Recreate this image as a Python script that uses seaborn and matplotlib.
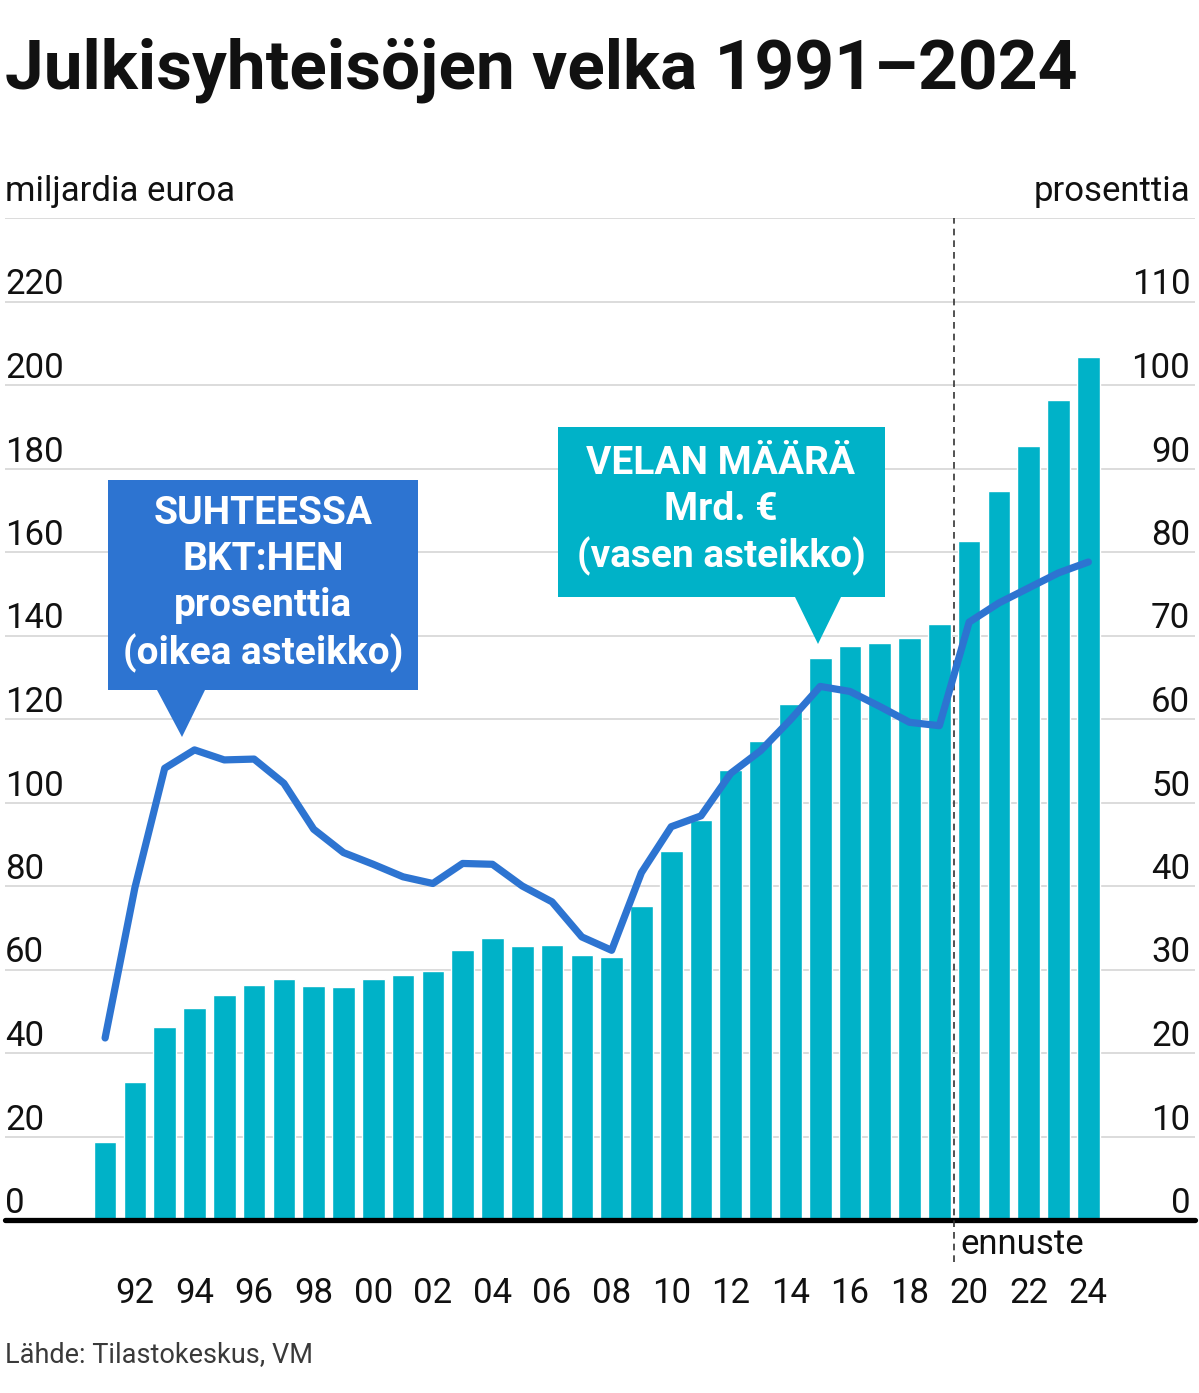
import matplotlib
matplotlib.use("Agg")
import matplotlib.pyplot as plt
import matplotlib.transforms as mtransforms
from matplotlib.patches import Polygon
import pandas as pd
import seaborn as sns

# data
years = [1991, 1992, 1993, 1994, 1995, 1996, 1997, 1998, 1999, 2000,
         2001, 2002, 2003, 2004, 2005, 2006, 2007, 2008, 2009, 2010,
         2011, 2012, 2013, 2014, 2015, 2016, 2017, 2018, 2019, 2020,
         2021, 2022, 2023, 2024]
debt_bn = [18.7, 33.0, 46.3, 50.8, 53.8, 56.4, 57.8, 56.0, 55.7, 57.8,
           58.8, 59.6, 64.7, 67.5, 65.6, 65.8, 63.4, 63.1, 75.3, 88.3,
           95.7, 107.8, 114.7, 123.7, 134.7, 137.4, 138.3, 139.4, 142.7, 162.7,
           174.5, 185.5, 196.5, 206.7]
debt_pct = [21.8, 39.8, 54.1, 56.3, 55.1, 55.2, 52.3, 46.8, 44.0, 42.6,
            41.1, 40.3, 42.7, 42.6, 40.0, 38.1, 33.9, 32.3, 41.6, 47.1,
            48.4, 53.5, 56.2, 59.9, 63.9, 63.3, 61.5, 59.6, 59.2, 71.6,
            73.9, 75.7, 77.5, 78.8]
left_ticks = [0, 20, 40, 60, 80, 100, 120, 140, 160, 180, 200, 220]
right_ticks = [0, 10, 20, 30, 40, 50, 60, 70, 80, 90, 100, 110]
x_tick_years = [1992, 1994, 1996, 1998, 2000, 2002, 2004, 2006, 2008,
                2010, 2012, 2014, 2016, 2018, 2020, 2022, 2024]
x_tick_labels = ["92", "94", "96", "98", "00", "02", "04", "06", "08",
                 "10", "12", "14", "16", "18", "20", "22", "24"]

df = pd.DataFrame({"year": years, "debt": debt_bn, "pct": debt_pct})

BAR = "#00B2C8"
LINE = "#2D74D1"
GRID = "#d6d6d6"

sns.set_theme(style="white")
plt.rcParams["font.family"] = ["Roboto", "DejaVu Sans"]

W, H = 1199, 1393
fig = plt.figure(figsize=(W / 100, H / 100), dpi=100)
# pixel transform, origin top-left
pxt = mtransforms.Affine2D().scale(1 / W, -1 / H).translate(0, 1) + fig.transFigure

ax = fig.add_axes([5 / W, (H - 1220) / H, 1190 / W, 1002 / H])
sns.barplot(data=df, x="year", y="debt", native_scale=True, width=0.76,
            color=BAR, saturation=1, ax=ax, zorder=2)
ax.set_xlim(1987.64, 2027.58)
ax.set_ylim(0, 240)
for v in left_ticks[1:] + [240]:
    ax.axhline(v, color=GRID, lw=1.2, zorder=0)
ax.axhline(0, color="black", lw=3.8, zorder=3, clip_on=False)
ax.axvline(2019.5, ymin=-0.042, ymax=1.0, color="#333333", lw=1.2,
           ls=(0, (4, 3)), zorder=4, clip_on=False)

ax2 = ax.twinx()
sns.lineplot(data=df, x="year", y="pct", color=LINE, lw=5.2, ax=ax2,
             solid_capstyle="round", solid_joinstyle="round", zorder=5)
ax2.set_ylim(0, 120)

for a in (ax, ax2):
    for s in a.spines.values():
        s.set_visible(False)
    a.set_ylabel("")
    a.set_xlabel("")
    a.set_yticks([])

ax.set_xticks(x_tick_years)
ax.set_xticklabels(x_tick_labels, fontsize=25)
ax.tick_params(axis="x", length=0, pad=41, colors="#111111")
ax2.tick_params(axis="x", length=0)

# y labels sit above their gridlines
lt = mtransforms.blended_transform_factory(ax.transAxes, ax.transData)
for v in left_ticks:
    ax.text(0.0, v, str(v), transform=lt, ha="left", va="bottom",
            fontsize=25, color="#111111")
rt = mtransforms.blended_transform_factory(ax2.transAxes, ax2.transData)
for v in right_ticks:
    ax2.text(0.996, v, str(v), transform=rt, ha="right", va="bottom",
             fontsize=25, color="#111111")

fig.text(5, 192, "miljardia euroa", transform=pxt, ha="left", va="center",
         fontsize=25, color="#111111")
fig.text(1190, 192, "prosenttia", transform=pxt, ha="right", va="center",
         fontsize=25, color="#111111")
fig.text(960, 1245, "ennuste", transform=pxt, ha="left", va="center",
         fontsize=25, color="#111111")

fig.text(5, 70, "Julkisyhteisöjen velka 1991–2024", transform=pxt,
         ha="left", va="center", fontsize=50, fontweight="bold", color="#111111")
fig.text(5, 1355, "Lähde: Tilastokeskus, VM", transform=pxt, ha="left",
         va="center", fontsize=19.5, color="#3a3a3a")

# callout boxes
blue_box = [(108, 480), (418, 480), (418, 690), (205, 690), (182, 737),
            (157, 690), (108, 690)]
fig.patches.append(Polygon(blue_box, closed=True, facecolor=LINE,
                           edgecolor="none", transform=pxt, figure=fig))
for txt, y in [("SUHTEESSA", 513), ("BKT:HEN", 560),
               ("prosenttia", 606), ("(oikea asteikko)", 653)]:
    fig.text(263, y, txt, transform=pxt, ha="center", va="center",
             fontsize=28, fontweight="bold", color="white")

teal_box = [(558, 427), (885, 427), (885, 597), (841, 597), (818, 644),
            (795, 597), (558, 597)]
fig.patches.append(Polygon(teal_box, closed=True, facecolor=BAR,
                           edgecolor="none", transform=pxt, figure=fig))
for txt, y in [("VELAN MÄÄRÄ", 463), ("Mrd. €", 510),
               ("(vasen asteikko)", 556)]:
    fig.text(721, y, txt, transform=pxt, ha="center", va="center",
             fontsize=28, fontweight="bold", color="white")

fig.savefig("out.png", dpi=100)
